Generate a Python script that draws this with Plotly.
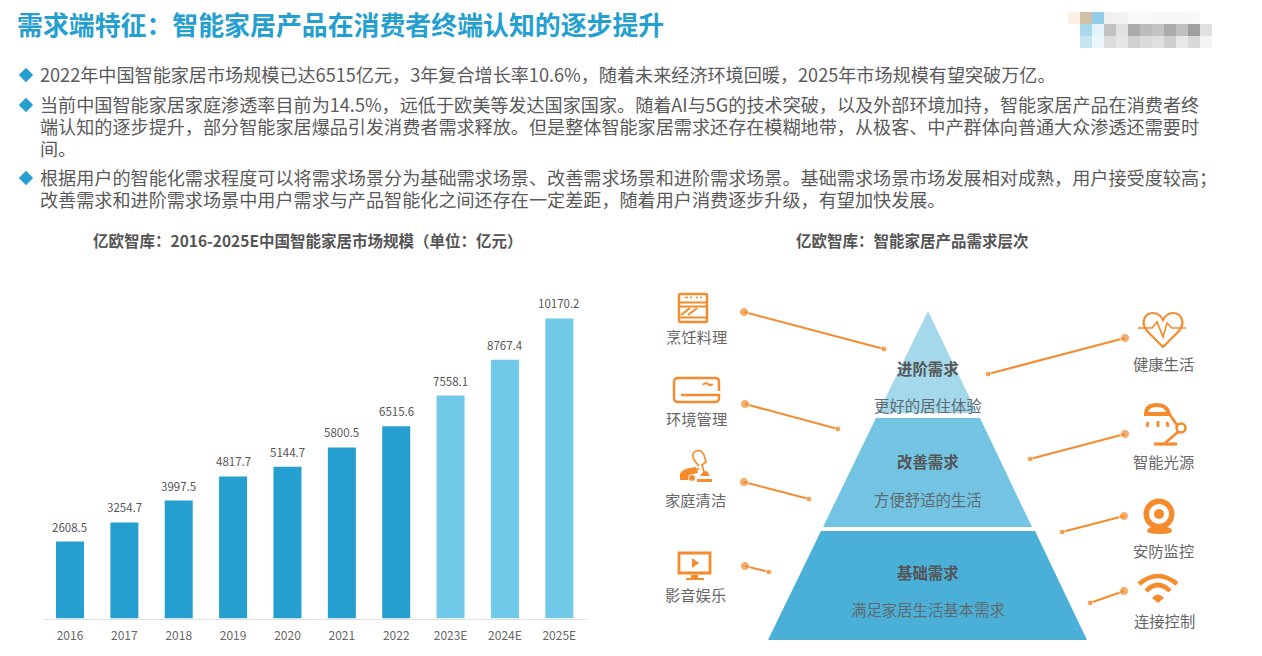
#! /usr/bin/env python

import plotly.graph_objects as go

FONT = "Noto Sans CJK SC"
BLUE = "#259FD0"
LIGHT = "#70C9E8"
ORANGE = "#F58B2D"
GREY = "#5F5F5F"

years = ["2016", "2017", "2018", "2019", "2020", "2021", "2022", "2023E", "2024E", "2025E"]
market = [2608.5, 3254.7, 3997.5, 4817.7, 5144.7, 5800.5, 6515.6, 7558.1, 8767.4, 10170.2]
market_labels = ["2608.5", "3254.7", "3997.5", "4817.7", "5144.7", "5800.5", "6515.6", "7558.1", "8767.4", "10170.2"]
bar_colors = [BLUE] * 7 + [LIGHT] * 3

title = "需求端特征\uff1a智能家居产品在消费者终端认知的逐步提升"
body_lines = [
    ("2022年中国智能家居市场规模已达6515亿元\uff0c3年复合增长率10.6%\uff0c随着未来经济环境回暖\uff0c2025年市场规模有望突破万亿。", 75),
    ("当前中国智能家居家庭渗透率目前为14.5%\uff0c远低于欧美等发达国家国家。随着AI与5G的技术突破\uff0c以及外部环境加持\uff0c智能家居产品在消费者终", 105),
    ("端认知的逐步提升\uff0c部分智能家居爆品引发消费者需求释放。但是整体智能家居需求还存在模糊地带\uff0c从极客、中产群体向普通大众渗透还需要时", 127),
    ("间。", 149),
    ("根据用户的智能化需求程度可以将需求场景分为基础需求场景、改善需求场景和进阶需求场景。基础需求场景市场发展相对成熟\uff0c用户接受度较高\uff1b", 178),
    ("改善需求和进阶需求场景中用户需求与产品智能化之间还存在一定差距\uff0c随着用户消费逐步升级\uff0c有望加快发展。", 200),
]
bullet_y = [75, 105, 178]
chart_title = "亿欧智库\uff1a2016-2025E中国智能家居市场规模\uff08单位\uff1a亿元\uff09"
pyramid_title = "亿欧智库\uff1a智能家居产品需求层次"

# pyramid tiers, top to bottom
tier_names = ["进阶需求", "改善需求", "基础需求"]
tier_notes = ["更好的居住体验", "方便舒适的生活", "满足家居生活基本需求"]
tier_colors = ["#A4D9EC", "#72C4E2", "#4BB0D8"]
tier_paths = [
    "M928,311 L977,413 L878,413 Z",
    "M876,418 L980,418 L1032,527 L823,527 Z",
    "M821,531 L1035,531 L1087,640 L768,640 Z",
]

left_labels = [("烹饪料理", 696, 337), ("环境管理", 696, 419), ("家庭清洁", 695, 500), ("影音娱乐", 695, 595)]
right_labels = [("健康生活", 1163, 364), ("智能光源", 1163, 462), ("安防监控", 1163, 551), ("连接控制", 1164, 621)]
connectors = [
    ((744, 312), (884, 349)),
    ((745, 404), (838, 429)),
    ((744, 482), (809, 499)),
    ((745, 566), (769, 572)),
    ((1125, 338), (988, 374)),
    ((1125, 434), (1030, 459)),
    ((1124, 516), (1062, 532)),
    ((1124, 591), (1090, 603)),
]

# blurred logo in the corner
mosaic_x = [1080, 1092, 1104, 1116, 1128, 1140, 1152, 1164, 1176, 1188, 1200]
mosaic_rows = [
    ["#D0C0A5", "#8FCEE6", "#F0F0F0", "#F2F2F2", "#F9F9F9", "#F9F9F9", "#F7F7F7", "#F6F6F6", "#F7F7F7", "#F8F8F8", "#FFFFFF"],
    ["#A8D8EB", "#E4F3F9", "#C2C2C2", "#E2E2E2", "#ABABAB", "#BCBCBC", "#C3C3C3", "#ABABAB", "#C0C0C0", "#A0A0A0", "#E0E0E0"],
    ["#C5E5F0", "#EAF6FB", "#DCDCDC", "#E5E5E5", "#D0D0D0", "#DADADA", "#E0E0E0", "#CFCFCF", "#E8E8E8", "#D8D8D8", "#F4F4F4"],
]

# icon outlines: (svg path, filled?, stroke width)
icons = [
    # oven
    ("M680,294 H706 Q707,294 707,295 V321 Q707,322 706,322 H680 Q679,322 679,321 V295 Q679,294 680,294 Z", False, 2.4),
    ("M679,302.5 H707 M679,306.5 H707 M679,317.5 H707", False, 2),
    ("M681,315 L690,308 M688,315 L697,308", False, 2.2),
    ("M685,297.5 H688 M690,297.5 H692 M696,297.5 H698 M700,297.5 H702", False, 1.5),
    # air conditioner
    ("M719,391 V382 Q719,378 715,378 H678 Q674,378 674,382 V398 Q674,402 678,402 H715 Q719,402 719,398 V395 H681", False, 2.4),
    ("M703,385 Q705,382 708,384 Q710,386 713,384", False, 2),
    # vacuum cleaner
    ("M680,480 V474 Q682,469 690,468 L696,467 L698,473 Q691,473 689,480 Z", True, 0),
    ("M697,480.5 H712", False, 3),
    ("M700,476 L710,476 L707,471 L703,472 Z", True, 0),
    ("M696,471 L699,468 M699,466 L694,460 Q691,453 696,451 Q701,449 704,455 L706,462 L702,465 L705,475", False, 1.7),
    # screen
    ("M679,553 H710 V573 H679 Z", False, 2.8),
    ("M692,558 L699,563 L692,568 Z", True, 0),
    ("M691,575 H698 V578 H704 V580 H686 V578 H691 Z", True, 0),
    # heart
    ("M1163,347 L1147,331 C1140,322 1145,313 1153,313 C1158,313 1161,316 1163,320 C1165,316 1168,313 1173,313 C1181,313 1186,322 1179,331 Z", False, 2.2),
    ("M1138,328 H1152 L1157,322 L1163,337 L1167,323 L1172,328 H1186", False, 1.7),
    # lamp
    ("M1146,414 Q1146,405 1157,405 Q1167,405 1169,414 Z", False, 4),
    ("M1170,415 L1177,425 M1178,432 L1165,443", False, 2.8),
    ("M1154,444 H1177", False, 3.2),
    ("M1148,422 L1147,427 M1158,421 V427 M1167,422 L1168,427", False, 2.8),
    # camera base
    ("M1147,531 Q1147,528 1152,527 H1167 Q1172,528 1172,531 Q1172,534 1160,534 Q1147,534 1147,531 Z", True, 0),
    # wifi
    ("M1139,584 Q1158,568 1177,584", False, 4.5),
    ("M1146,591 Q1158,579 1170,591", False, 4.5),
    ("M1152,598 Q1158,591 1164,598 L1158,603 Z", True, 0),
]

# icon circles: (cx, cy, radius, fill, stroke colour, stroke width)
icon_circles = [
    (692, 478, 3.5, ORANGE, "white", 1),
    (1181, 428, 4.5, "white", ORANGE, 2.6),
    (1159, 514, 15.5, ORANGE, ORANGE, 0),
    (1159, 514, 10, "white", ORANGE, 0),
    (1159, 514, 5, ORANGE, ORANGE, 0),
]


def pixel_text(text, x, y, size, color=GREY, bold=False, anchor="center"):
    """ Text placed by window pixel on the overlay axes. """
    if bold:
        text = "<b>{}</b>".format(text)
    if anchor == "left":
        x = x - 2
    return dict(text=text, x=x, y=y - 1.5, xref="x2", yref="y2", xanchor=anchor, yanchor="middle",
                showarrow=False, font=dict(family=FONT, size=size, color=color))


fig = go.Figure()

fig.add_trace(go.Bar(x=years, y=market, marker=dict(color=bar_colors, line=dict(width=0)),
                     showlegend=False, hoverinfo="x+y"))

shapes = []
for row, colors in enumerate(mosaic_rows):
    for x, color in zip(mosaic_x, colors):
        shapes.append(dict(type="rect", x0=x, x1=x + 12, y0=12 + row * 12, y1=24 + row * 12,
                           xref="x2", yref="y2", fillcolor=color, line=dict(width=0), layer="below"))
shapes.append(dict(type="rect", x0=1068, x1=1080, y0=12, y1=24, xref="x2", yref="y2",
                   fillcolor="#FBF0E6", line=dict(width=0), layer="below"))
for path, color in zip(tier_paths, tier_colors):
    shapes.append(dict(type="path", path=path, xref="x2", yref="y2", fillcolor=color,
                       line=dict(width=0), layer="below"))
for path, filled, stroke in icons:
    shapes.append(dict(type="path", path=path, xref="x2", yref="y2",
                       fillcolor=ORANGE if filled else "rgba(0,0,0,0)",
                       line=dict(color=ORANGE, width=stroke)))
for cx, cy, r, fill, edge, stroke in icon_circles:
    shapes.append(dict(type="circle", x0=cx - r, x1=cx + r, y0=cy - r, y1=cy + r, xref="x2", yref="y2",
                       fillcolor=fill, line=dict(color=edge, width=stroke)))

for start, end in connectors:
    fig.add_trace(go.Scatter(x=[start[0], end[0]], y=[start[1], end[1]], xaxis="x2", yaxis="y2",
                             mode="lines+markers", line=dict(color=ORANGE, width=2),
                             marker=dict(color=ORANGE, size=[9, 6]), showlegend=False, hoverinfo="skip"))

fig.add_trace(go.Scatter(x=[26] * len(bullet_y), y=bullet_y, xaxis="x2", yaxis="y2", mode="markers",
                         marker=dict(symbol="diamond", color=BLUE, size=11, line=dict(width=0)),
                         showlegend=False, hoverinfo="skip"))

notes = [pixel_text(title, 17, 25, 25.9, BLUE, True, "left")]
for line, y in body_lines:
    notes.append(pixel_text(line, 40, y, 18.13, "#5A5A5A", False, "left"))
notes.append(pixel_text(chart_title, 307, 241, 15.5, "#555555", True))
notes.append(pixel_text(pyramid_title, 912, 241, 15.5, "#555555", True))
for name, note, y0, y1 in zip(tier_names, tier_notes, [369, 462, 573], [406, 500, 610]):
    notes.append(pixel_text(name, 928, y0, 15.4, "#555555", True))
    notes.append(pixel_text(note, 928, y1, 15.4, "#5F6B70"))
for label, x, y in left_labels + right_labels:
    notes.append(pixel_text(label, x, y, 15.3, "#666666"))
# numeric category index: a year string would be read as a number on the axis
for i, (value, label) in enumerate(zip(market, market_labels)):
    notes.append(dict(text=label, x=i, y=value, xref="x", yref="y", yanchor="bottom", yshift=5,
                      showarrow=False, font=dict(family=FONT, size=11.5, color="#555555")))

H = 656.
layout = go.Layout(
    width=1262, height=656, margin=dict(l=0, r=0, t=0, b=0),
    paper_bgcolor="white", plot_bgcolor="rgba(0,0,0,0)", showlegend=False,
    bargap=0.485,
    xaxis=dict(domain=[42.8 / 1262, 586.5 / 1262], anchor="y", type="category", categoryorder="array",
               categoryarray=years, range=[-0.5, 9.5], fixedrange=True,
               showgrid=False, zeroline=False, showline=True, linecolor="#E2E2E2", linewidth=1,
               ticks="", tickfont=dict(family=FONT, size=12, color="#666666"), ticklabelstandoff=6),
    yaxis=dict(domain=[(H - 618.5) / H, (H - 294) / H], range=[0, 11000], anchor="x", fixedrange=True,
               visible=False),
    xaxis2=dict(domain=[0, 1], range=[0, 1262], anchor="y2", fixedrange=True, visible=False),
    yaxis2=dict(domain=[0, 1], range=[656, 0], anchor="x2", fixedrange=True, visible=False),
    shapes=shapes, annotations=notes,
)
fig.update_layout(layout)

fig.write_html("out.html", config=dict(displayModeBar=False), post_script="document.body.style.margin='0';")
